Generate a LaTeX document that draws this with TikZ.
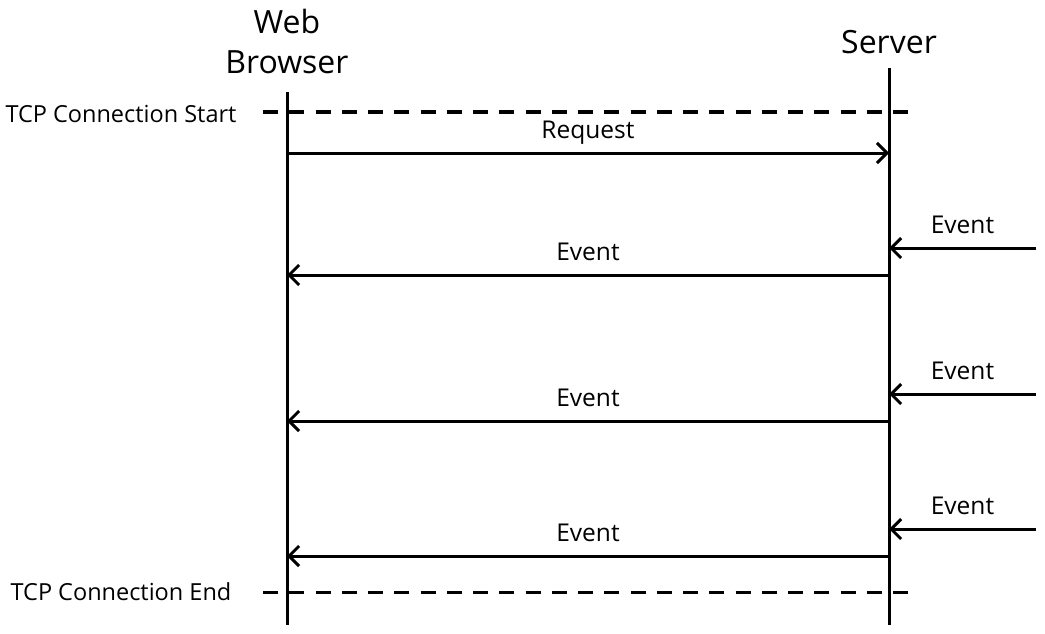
\documentclass[tikz,border=0pt]{standalone}
\usepackage{fontspec}
\setmainfont{Open Sans}
\usetikzlibrary{arrows.meta}

\tikzstyle{head} = [font=\fontsize{32}{40}\selectfont, align=center, inner sep=0pt]
\tikzstyle{msg} = [font=\fontsize{24.5}{28}\selectfont, anchor=base, yshift=15pt]
\tikzstyle{side} = [font=\fontsize{23.5}{28}\selectfont]
\tikzstyle{life} = [draw, line width=3pt]
\tikzstyle{phase} = [draw, line width=3pt, dash pattern=on 15pt off 11.25pt]
\tikzstyle{line} = [draw, line width=3pt, -{Straight Barb[length=10pt, width=20pt]}]

\begin{document}
\begin{tikzpicture}[x=1pt, y=-1pt]
\useasboundingbox (0,0) rectangle (1045,634);

\node [head] (Browser) at (287,42) {Web\\Browser};
\node [head] (Server) at (889,42) {Server};

\coordinate (BrowserTop) at (287,92);
\coordinate (BrowserEnd) at (287,625);
\coordinate (ServerTop) at (889,68);
\coordinate (ServerEnd) at (889,625);
\path [life] (BrowserTop) -- (BrowserEnd);
\path [life] (ServerTop) -- (ServerEnd);

% connection start / end
\coordinate (StartL) at (263,112);
\coordinate (StartR) at (908,112);
\coordinate (EndL) at (263,592);
\coordinate (EndR) at (908,592);
\path [phase] (StartL) -- (StartR);
\path [phase] (EndL) -- (EndR);
\node [side] (StartText) at (121,114) {TCP Connection Start};
\node [side] (EndText) at (121,592) {TCP Connection End};

\coordinate (ReqB) at (287,153);
\coordinate (ReqS) at (889,153);
\path [line] (ReqB) -- node [msg] {Request} (ReqS);

\foreach \i/\a/\b in {1/248/275, 2/394/421, 3/529/556} {
  \coordinate (Src\i) at (1036,\a);
  \coordinate (In\i) at (889,\a);
  \coordinate (Out\i) at (889,\b);
  \coordinate (Recv\i) at (287,\b);
  \path [line] (Src\i) -- node [msg] {Event} (In\i);
  \path [line] (Out\i) -- node [msg] {Event} (Recv\i);
}
\end{tikzpicture}
\end{document}
